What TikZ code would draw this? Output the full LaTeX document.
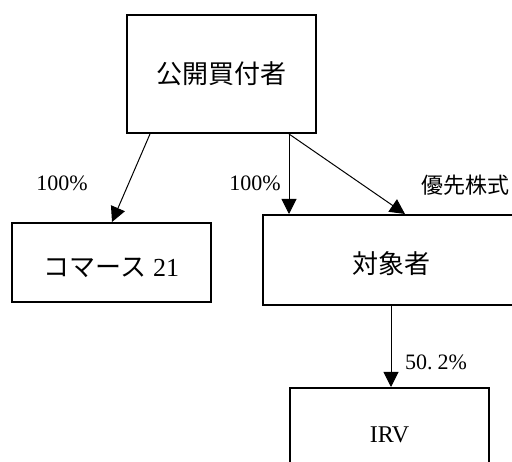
\documentclass[tikz,border=0pt]{standalone}
\usepackage{fontspec}
\setmainfont{Liberation Serif}
\newfontfamily\cjk{Noto Sans CJK JP}
\usetikzlibrary{arrows.meta}
\begin{document}
\begin{tikzpicture}[x=1pt,y=-1pt,
  box/.style={draw=black,line width=2pt,fill=white,inner sep=0pt,font=\fontsize{26}{30}\selectfont},
  arr/.style={draw=black,line width=1pt,-{Triangle[length=15pt,width=15pt]}},
  lab/.style={inner sep=0pt,font=\fontsize{22}{26}\selectfont}]
\useasboundingbox (0,0) rectangle (512,462);
\clip (0,0) rectangle (512,462);
\fill[white] (0,0) rectangle (512,462);
\node[box,minimum width=189pt,minimum height=118pt] (top) at (221.5,74) {\cjk 公開買付者};
\node[box,minimum width=199pt,minimum height=79pt,text height=29pt,text depth=0pt] (com) at (111.5,262.5) {{\cjk コマース} 21};
\node[box,minimum width=256pt,minimum height=90pt,text height=28pt,text depth=0pt] (tgt) at (391,260) {\cjk 対象者};
\node[box,minimum width=199pt,minimum height=94pt,font=\fontsize{24}{28}\selectfont] (irv) at (389.5,435) {IRV};
\draw[arr] ([xshift=24pt]top.south west) -- ([xshift=101pt]com.north west);
\draw[arr] ([xshift=163pt]top.south west) -- ([xshift=27pt]tgt.north west);
\draw[arr] ([xshift=163pt]top.south west) -- ([xshift=143pt]tgt.north west);
\draw[arr] (tgt.south) -- (tgt.south |- irv.north);
\node[lab] (l1) at (62,183) {100\%};
\node[lab] (l2) at (255,183) {100\%};
\node[lab,anchor=west] (l3) at (421,185) {\cjk 優先株式};
\node[lab,anchor=west] (l4) at (405,362) {50.\hspace{5pt}2\%};
\end{tikzpicture}
\end{document}
